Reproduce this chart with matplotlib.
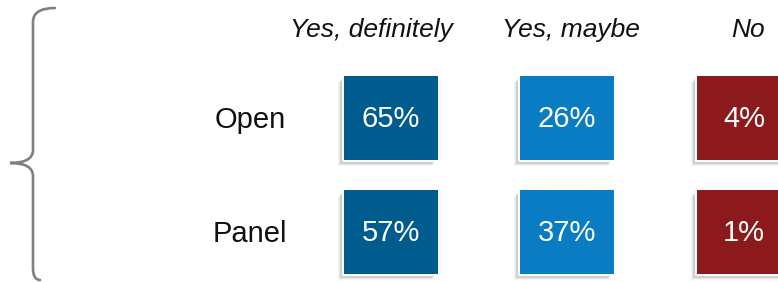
import matplotlib.pyplot as plt
import numpy as np
from matplotlib.patches import Rectangle, PathPatch
from matplotlib.path import Path

plt.rcParams['font.family'] = ['Liberation Sans', 'DejaVu Sans']

# --------------------------------------------------------------------------
rows = ['Open', 'Panel']
columns = ['Yes, definitely', 'Yes, maybe', 'No']
open_vals = [65, 26, 4]
panel_vals = [57, 37, 1]
col_colors = ['#005B8E', '#0A7CC3', '#8C1A1C']

values = [open_vals, panel_vals]

# layout in pixel units (y grows downwards)
W, H = 778, 282
box_x = [344, 520, 697]
box_w, box_h = 94, 84
row_y = [76, 190]
header_x = [371, 571, 748]
header_y = 30
label_x = 250

fig = plt.figure(figsize=(W / 100, H / 100), dpi=100)
ax = fig.add_axes([0, 0, 1, 1])
ax.set_xlim(0, W)
ax.set_ylim(H, 0)
ax.axis('off')

# --------------------------------------------------------------------------
# curly brace
verts = [(55, 8), (33, 8), (33, 22),
         (33, 150),
         (33, 163), (10, 163),
         (33, 163), (33, 176),
         (33, 268),
         (33, 280), (40, 280)]
codes = [Path.MOVETO, Path.CURVE3, Path.CURVE3,
         Path.LINETO,
         Path.CURVE3, Path.CURVE3,
         Path.CURVE3, Path.CURVE3,
         Path.LINETO,
         Path.CURVE3, Path.CURVE3]
ax.add_patch(PathPatch(Path(verts, codes), facecolor='none',
                       edgecolor='#808080', lw=1.9, capstyle='round'))

# column headers
for j, name in enumerate(columns):
    ax.text(header_x[j], header_y, name, fontsize=19, style='italic',
            ha='center', va='center', color='#111111')

# rows of boxes
for i, name in enumerate(rows):
    yc = row_y[i] + box_h / 2
    ax.text(label_x, yc + 1.5, name, fontsize=21, ha='center', va='center',
            color='#111111')
    for j, v in enumerate(values[i]):
        x0 = box_x[j]
        # soft shadow to the left and below
        for k in range(10, 0, -1):
            ax.add_patch(Rectangle((x0 - k * 0.6, row_y[i] + k * 0.6), box_w, box_h,
                                   facecolor='#000000', alpha=0.035,
                                   edgecolor='none'))
        ax.add_patch(Rectangle((x0 - 1.5, row_y[i] - 1.5), box_w + 3, box_h + 3,
                               facecolor='white', edgecolor='none'))
        ax.add_patch(Rectangle((x0, row_y[i]), box_w, box_h,
                               facecolor=col_colors[j], edgecolor='none'))
        ax.text(x0 + box_w / 2, yc + 1, f'{v}%', fontsize=21, color='white',
                ha='center', va='center')

fig.savefig('out.png', dpi=100)
